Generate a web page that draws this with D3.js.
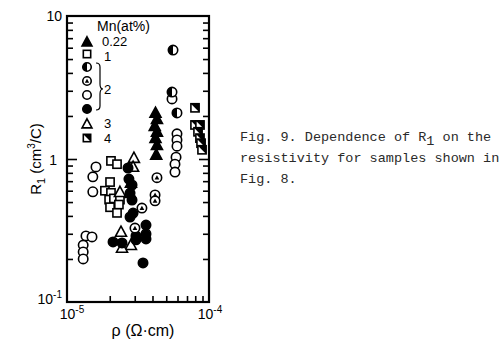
<!DOCTYPE html>
<html><head><meta charset="utf-8">
<script src="https://cdn.jsdelivr.net/npm/d3@7"></script>
<style>body{margin:0;background:#fff}</style>
</head><body>
<svg id="c" width="502" height="346"></svg>
<script>
// ---- data (rho in ohm*cm, R1 in cm^3/C) ----
const mn022Rho = [4.2e-5, 4.3e-5, 4.15e-5, 4.3e-5, 4.2e-5, 4.3e-5, 4.25e-5];
const mn022R   = [2.1, 1.9, 1.7, 1.55, 1.4, 1.25, 1.07];
const mn1Rho = [2.04e-5, 2.25e-5, 2.01e-5, 1.85e-5, 2.04e-5, 1.98e-5, 2.14e-5, 2.36e-5, 2.01e-5, 2.32e-5, 2.25e-5];
const mn1R   = [0.97, 0.92, 0.69, 0.60, 0.58, 0.52, 0.53, 0.52, 0.46, 0.48, 0.42];
const mn2aRho = [5.58e-5, 5.49e-5, 5.95e-5];
const mn2aR   = [5.78, 2.94, 2.10];
const mn2bRho = [4.30e-5, 4.17e-5, 4.17e-5, 3.37e-5, 3.01e-5];
const mn2bR   = [0.74, 0.56, 0.51, 0.454, 0.329];
const mn2cRho = [1.60e-5, 1.52e-5, 1.52e-5, 1.36e-5, 1.50e-5, 1.30e-5, 1.30e-5, 1.30e-5, 5.49e-5, 5.95e-5, 5.95e-5, 5.95e-5, 5.86e-5, 5.76e-5, 5.76e-5];
const mn2cR   = [0.88, 0.75, 0.59, 0.29, 0.285, 0.25, 0.224, 0.20, 2.63, 1.50, 1.36, 1.23, 1.03, 0.92, 0.81];
const mn2dRho = [2.69e-5, 2.73e-5, 2.87e-5, 2.78e-5, 2.87e-5, 2.92e-5, 2.78e-5, 3.06e-5, 3.06e-5, 3.60e-5, 3.60e-5, 3.60e-5, 2.11e-5, 2.44e-5, 3.43e-5];
const mn2dR   = [0.865, 0.724, 0.658, 0.578, 0.516, 0.419, 0.393, 0.290, 0.272, 0.345, 0.299, 0.276, 0.263, 0.259, 0.1875];
const mn3Rho = [2.96e-5, 2.92e-5, 2.82e-5, 2.36e-5, 2.78e-5, 2.40e-5, 2.82e-5, 2.44e-5];
const mn3R   = [1.016, 0.88, 0.68, 0.587, 0.578, 0.309, 0.25, 0.239];
const mn4Rho = [7.97e-5, 7.97e-5, 8.64e-5, 8.37e-5, 8.64e-5, 8.79e-5, 8.93e-5];
const mn4R   = [2.28, 1.73, 1.73, 1.55, 1.40, 1.29, 1.16];

const legendLabels = ["0.22", "1", "2", "3", "4"];
const legendTitle = "Mn(at%)";
const captionLines = ["Fig. 9. Dependence of R", "resistivity for samples shown in", "Fig. 8."];

// ---- drawing ----
const svg = d3.select("#c");
const X0 = 67, X1 = 209, Y0 = 16, Y1 = 302;
const x = d3.scaleLog().domain([1e-5, 1e-4]).range([X0, X1]);
const y = d3.scaleLog().domain([0.1, 10]).range([Y1, Y0]);

const sans = "'Liberation Sans', Arial, sans-serif";
const mono = "'Liberation Mono', 'Courier New', monospace";

// frame
svg.append("rect").attr("x", X0).attr("y", Y0).attr("width", X1 - X0).attr("height", Y1 - Y0)
  .attr("fill", "none").attr("stroke", "#000").attr("stroke-width", 2.2);

// axes ticks
const yMajor = [1];
const yMinor = [];
[0.1, 1].forEach(d => { for (let k = 2; k <= 9; k++) yMinor.push(d * k); });
const xMinor = [];
for (let k = 2; k <= 9; k++) xMinor.push(1e-5 * k);

function styleAxis(g){ g.select(".domain").remove(); g.selectAll("line").attr("stroke","#000").attr("stroke-width",1.6); g.selectAll("text").remove(); }
svg.append("g").attr("transform", `translate(${X0},0)`).call(d3.axisRight(y).tickValues(yMinor).tickSize(6)).call(styleAxis);
svg.append("g").attr("transform", `translate(${X0},0)`).call(d3.axisRight(y).tickValues(yMajor).tickSize(10)).call(styleAxis);
svg.append("g").attr("transform", `translate(${X1},0)`).call(d3.axisLeft(y).tickValues(yMinor).tickSize(6)).call(styleAxis);
svg.append("g").attr("transform", `translate(${X1},0)`).call(d3.axisLeft(y).tickValues(yMajor).tickSize(10)).call(styleAxis);
svg.append("g").attr("transform", `translate(0,${Y1})`).call(d3.axisTop(x).tickValues(xMinor).tickSize(6)).call(styleAxis);

// tick labels
function powLabel(g, px, py, base, exp, anchor){
  const t = g.append("text").attr("x", px).attr("y", py).attr("font-family", sans).attr("font-size", 14).attr("text-anchor", anchor).attr("fill","#000");
  t.append("tspan").text(base);
  if (exp) t.append("tspan").attr("dy", -6).attr("font-size", 10).text(exp);
  return t;
}
powLabel(svg, 62, Y0 + 5, "10", null, "end");
powLabel(svg, 57, y(1) + 6, "1", null, "end");
powLabel(svg, 62, y(0.1) + 2, "10", "-1", "end");
powLabel(svg, x(1e-5) + 5, Y1 + 17, "10", "-5", "middle");
powLabel(svg, x(1e-4) + 1, Y1 + 17, "10", "-4", "middle");

// axis titles
const yl = svg.append("text").attr("transform", `translate(41,${y(1)}) rotate(-90)`).attr("text-anchor","middle")
  .attr("font-family", sans).attr("font-size", 15).attr("fill","#000");
yl.append("tspan").text("R");
yl.append("tspan").attr("dy", 4).attr("font-size", 11).text("1");
yl.append("tspan").attr("dy", -4).text(" (cm");
yl.append("tspan").attr("dy", -6).attr("font-size", 10).text("3");
yl.append("tspan").attr("dy", 6).text("/C)");

svg.append("text").attr("x", 143).attr("y", 336).attr("text-anchor","middle")
  .attr("font-family", sans).attr("font-size", 16).attr("fill","#000").text("ρ (Ω·cm)");

// symbols
const SW = 1.6;
function sym(g, type, s){
  const r = 4.7 * s;
  if (type === "triF" || type === "triO") {
    const h = 5.8 * s;
    g.append("path").attr("d", `M0,${-h}L${h*0.95},${h*0.75}L${-h*0.95},${h*0.75}Z`)
      .attr("fill", type === "triF" ? "#000" : "#fff").attr("stroke","#000").attr("stroke-width",SW);
  } else if (type === "sqO" || type === "sqH") {
    const a = 4.1 * s;
    g.append("rect").attr("x",-a).attr("y",-a).attr("width",2*a).attr("height",2*a)
      .attr("fill","#fff").attr("stroke","#000").attr("stroke-width",SW);
    if (type === "sqH") g.append("path").attr("d", `M${-a},${-a}L${a},${-a}L${a},${a}Z`).attr("fill","#000");
  } else if (type === "cO" || type === "cF") {
    g.append("circle").attr("r", r).attr("fill", type === "cF" ? "#000" : "#fff").attr("stroke","#000").attr("stroke-width",SW);
  } else if (type === "cH") {
    g.append("circle").attr("r", r).attr("fill","#fff").attr("stroke","#000").attr("stroke-width",SW);
    g.append("path").attr("d", `M0,${-r}A${r},${r} 0 0 0 0,${r}Z`).attr("fill","#000");
  } else if (type === "cT") {
    g.append("circle").attr("r", r).attr("fill","#fff").attr("stroke","#000").attr("stroke-width",SW);
    const t = 2.4 * s;
    g.append("path").attr("d", `M0,${-t}L${t},${t*0.8}L${-t},${t*0.8}Z`).attr("fill","#000");
  }
}

const series = [
  {rho: mn2cRho, r: mn2cR, type: "cO"},
  {rho: mn1Rho, r: mn1R, type: "sqO"},
  {rho: mn3Rho, r: mn3R, type: "triO"},
  {rho: mn2dRho, r: mn2dR, type: "cF"},
  {rho: mn2bRho, r: mn2bR, type: "cT"},
  {rho: mn2aRho, r: mn2aR, type: "cH"},
  {rho: mn022Rho, r: mn022R, type: "triF"},
  {rho: mn4Rho, r: mn4R, type: "sqH"}
];
series.forEach(sr => {
  sr.rho.forEach((v, i) => {
    const g = svg.append("g").attr("transform", `translate(${x(v)},${y(sr.r[i])})`);
    sym(g, sr.type, 1);
  });
});

// legend
svg.append("text").attr("x", 97).attr("y", 31).attr("font-family", sans).attr("font-size", 14).attr("fill","#000").text(legendTitle);
const legRows = [
  {type:"triF", yy:42}, {type:"sqO", yy:54}, {type:"cH", yy:67}, {type:"cT", yy:81},
  {type:"cO", yy:95}, {type:"cF", yy:109}, {type:"triO", yy:124}, {type:"sqH", yy:138}
];
legRows.forEach(d => { sym(svg.append("g").attr("transform", `translate(87,${d.yy})`), d.type, 0.9); });
const lt = (txt, xx, yy) => svg.append("text").attr("x", xx).attr("y", yy).attr("font-family", sans).attr("font-size", 13).attr("fill","#000").text(txt);
lt(legendLabels[0], 102, 46);
lt(legendLabels[1], 104, 61);
lt(legendLabels[2], 104, 94);
lt(legendLabels[3], 104, 128);
lt(legendLabels[4], 104, 143);
// brace
svg.append("path").attr("d", "M96,63 Q100,63 100,67 L100,84 Q100,89 103,89 Q100,89 100,94 L100,106 Q100,110 96,110")
  .attr("fill","none").attr("stroke","#000").attr("stroke-width",1.2);

// caption
const cap = svg.append("g").attr("font-family", mono).attr("font-size", 13.5).attr("fill","#2a2a2a");
const c1 = cap.append("text").attr("x", 240).attr("y", 141);
c1.append("tspan").text(captionLines[0]);
c1.append("tspan").attr("dy", 4).text("1");
c1.append("tspan").attr("dy", -4).text(" on the");
cap.append("text").attr("x", 240).attr("y", 162).text(captionLines[1]);
cap.append("text").attr("x", 240).attr("y", 183).text(captionLines[2]);
</script>
</body></html>
